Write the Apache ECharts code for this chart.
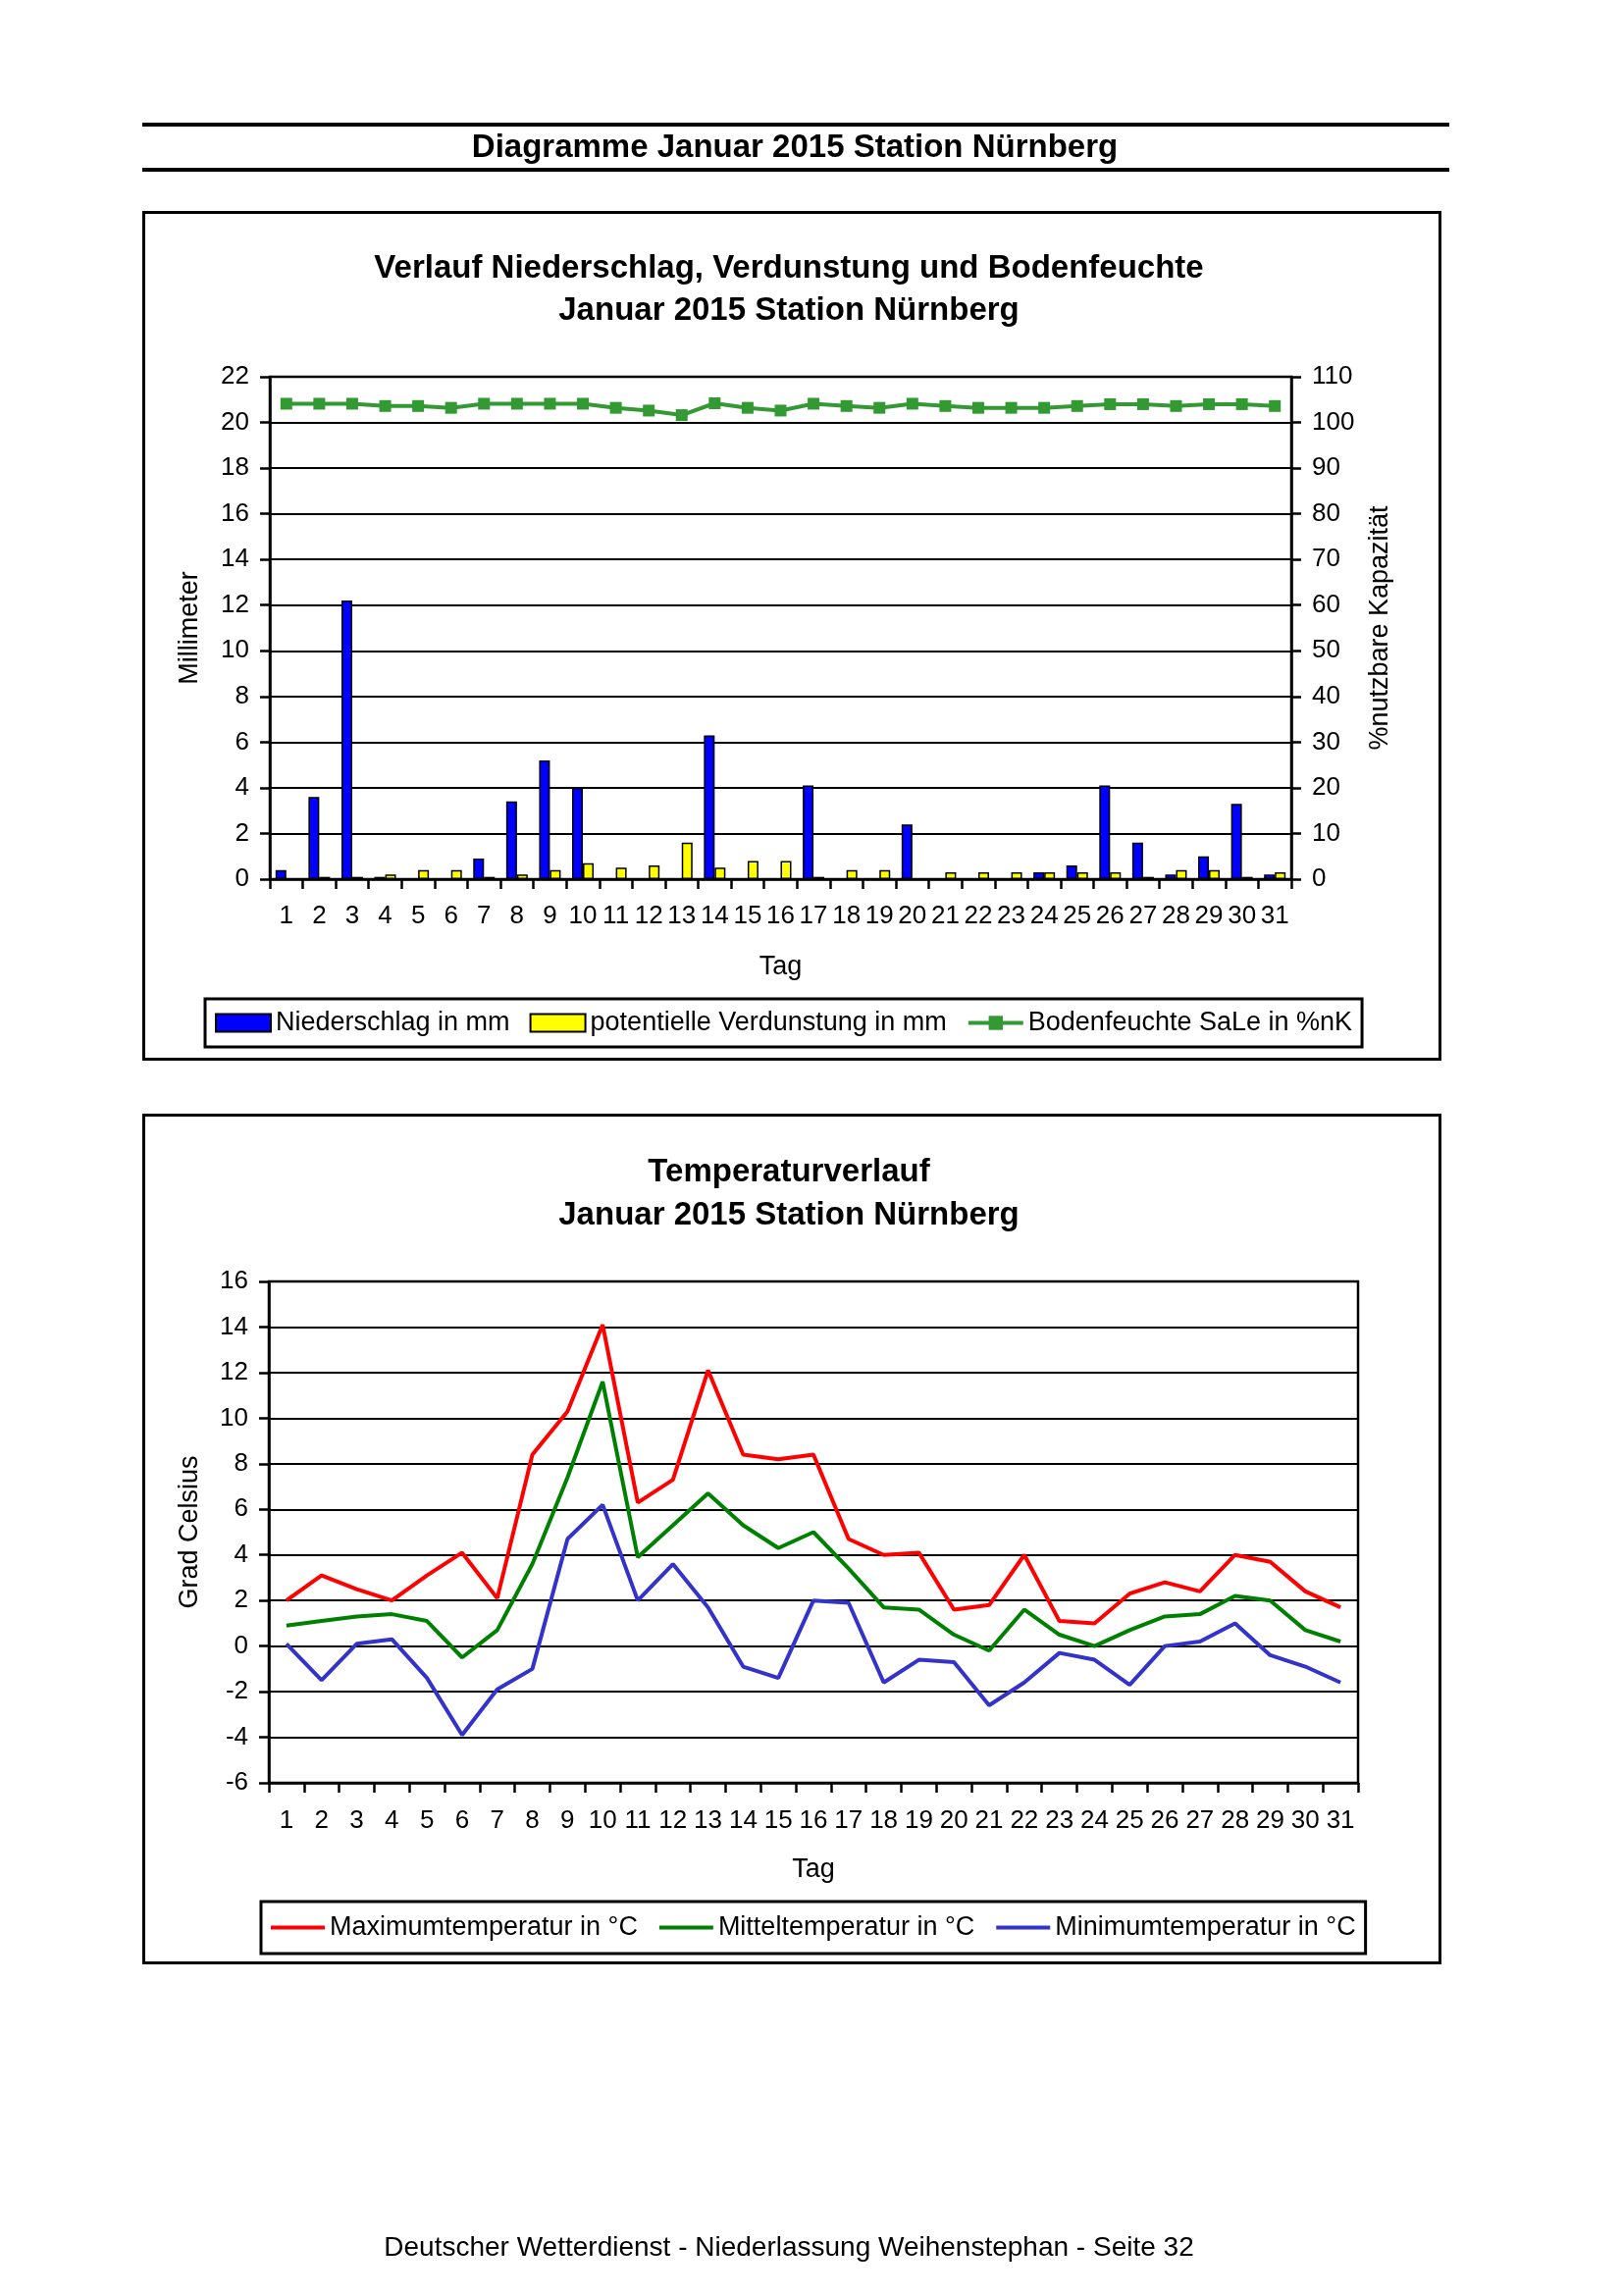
<!DOCTYPE html>
<html><head><meta charset="utf-8">
<script src="https://cdn.jsdelivr.net/npm/echarts@6/dist/echarts.min.js"></script>
<style>html,body{margin:0;padding:0;background:#fff}#c{width:1653px;height:2340px}</style>
</head><body><div id="c"></div>
<script>
// ---- data ----
const days = ['1','2','3','4','5','6','7','8','9','10','11','12','13','14','15','16','17','18','19','20','21','22','23','24','25','26','27','28','29','30','31'];
const niederschlag = [0.4,3.6,12.2,0.1,0,0,0.9,3.4,5.2,4.0,0,0,0,6.3,0,0,4.1,0,0,2.4,0,0,0,0.3,0.6,4.1,1.6,0.2,1.0,3.3,0.2];
const verdunstung = [0,0.1,0.1,0.2,0.4,0.4,0.1,0.2,0.4,0.7,0.5,0.6,1.6,0.5,0.8,0.8,0.1,0.4,0.4,0,0.3,0.3,0.3,0.3,0.3,0.3,0.1,0.4,0.4,0.1,0.3];
const bodenfeuchte = [104.1,104.1,104.1,103.6,103.6,103.2,104.1,104.1,104.1,104.1,103.2,102.6,101.6,104.2,103.2,102.6,104.1,103.6,103.2,104.1,103.6,103.2,103.2,103.2,103.6,104,104,103.6,104,104,103.6];
const tmax = [2.0,3.1,2.5,2.0,3.1,4.1,2.1,8.4,10.3,14.1,6.3,7.3,12.1,8.4,8.2,8.4,4.7,4.0,4.1,1.6,1.8,4.0,1.1,1.0,2.3,2.8,2.4,4.0,3.7,2.4,1.7];
const tmean = [0.9,1.1,1.3,1.4,1.1,-0.5,0.7,3.6,7.4,11.6,3.9,5.3,6.7,5.3,4.3,5.0,3.4,1.7,1.6,0.5,-0.2,1.6,0.5,0.0,0.7,1.3,1.4,2.2,2.0,0.7,0.2];
const tmin = [0.1,-1.5,0.1,0.3,-1.4,-3.9,-1.9,-1.0,4.7,6.2,2.0,3.6,1.7,-0.9,-1.4,2.0,1.9,-1.6,-0.6,-0.7,-2.6,-1.6,-0.3,-0.6,-1.7,0.0,0.2,1.0,-0.4,-0.9,-1.6];

const headerTitle = 'Diagramme Januar 2015 Station Nürnberg';
const chart1Title = ['Verlauf Niederschlag, Verdunstung und Bodenfeuchte', 'Januar 2015 Station Nürnberg'];
const chart2Title = ['Temperaturverlauf', 'Januar 2015 Station Nürnberg'];
const footer = 'Deutscher Wetterdienst - Niederlassung Weihenstephan - Seite 32';

// ---- chart ----
const F = '"Liberation Sans", Arial, sans-serif';
const chart = echarts.init(document.getElementById('c'));
const axLine = {show:true, onZero:false, lineStyle:{color:'#000', width:2.5}};
const axTick = {show:true, inside:false, length:10, lineStyle:{color:'#000', width:2.5}};
const lbl = (m) => ({color:'#000', fontSize:26, fontFamily:F, margin:m});
const nameStyle = {color:'#000', fontSize:27, fontFamily:F};

function txt(x, y, s, size, bold) {
  return {type:'text', x:x, y:y, style:{text:s, fill:'#000', font:(bold?'bold ':'')+size+'px '+F, textAlign:'center', textVerticalAlign:'middle'}};
}

const option = {
  backgroundColor:'#fff',
  animation:false,
  graphic:[
    {type:'rect', shape:{x:145, y:125, width:1332, height:4}, style:{fill:'#000'}},
    {type:'rect', shape:{x:145, y:171, width:1332, height:4}, style:{fill:'#000'}},
    txt(810, 151, headerTitle, 33, true),
    {type:'rect', shape:{x:146.5, y:216.5, width:1321, height:863}, style:{fill:'none', stroke:'#000', lineWidth:3}},
    {type:'rect', shape:{x:146.5, y:1136.5, width:1321, height:864}, style:{fill:'none', stroke:'#000', lineWidth:3}},
    txt(804, 274, chart1Title[0], 33, true),
    txt(804, 317, chart1Title[1], 33, true),
    txt(804, 1195, chart2Title[0], 33, true),
    txt(804, 1239, chart2Title[1], 33, true),
    txt(804, 2291, footer, 28, false)
  ],
  grid:[
    {left:275, top:384, width:1041, height:512, show:true, borderColor:'#000', borderWidth:2.5, backgroundColor:'transparent'},
    {left:274, top:1306, width:1110, height:511, show:true, borderColor:'#000', borderWidth:2.5, backgroundColor:'transparent'}
  ],
  legend:[
    {left:209, top:1018, padding:[11,10,11,10], itemGap:20, itemWidth:56, itemHeight:18,
     borderColor:'#000', borderWidth:3, backgroundColor:'#fff',
     textStyle:{color:'#000', fontSize:27, fontFamily:F},
     lineStyle:{width:4},
     data:[{name:'Niederschlag in mm', icon:'rect'}, {name:'potentielle Verdunstung in mm', icon:'rect'}, {name:'Bodenfeuchte SaLe in %nK'}]},
    {left:266, top:1938, padding:[13,10,13,10], itemGap:22, itemWidth:55, itemHeight:4, icon:'rect',
     borderColor:'#000', borderWidth:3, backgroundColor:'#fff',
     textStyle:{color:'#000', fontSize:27, fontFamily:F},
     data:['Maximumtemperatur in °C','Mitteltemperatur in °C','Minimumtemperatur in °C']}
  ],
  xAxis:[
    {type:'category', gridIndex:0, data:days, boundaryGap:true, axisLine:axLine, axisTick:axTick,
     axisLabel:Object.assign(lbl(25), {interval:0}), name:'Tag', nameLocation:'middle', nameGap:76, nameTextStyle:nameStyle},
    {type:'category', gridIndex:1, data:days, boundaryGap:true, axisLine:axLine, axisTick:axTick,
     axisLabel:Object.assign(lbl(26), {interval:0}), name:'Tag', nameLocation:'middle', nameGap:75, nameTextStyle:nameStyle}
  ],
  yAxis:[
    {type:'value', gridIndex:0, min:0, max:22, interval:2, position:'left', axisLine:axLine, axisTick:axTick,
     axisLabel:lbl(21), splitLine:{show:true, lineStyle:{color:'#000', width:2}},
     name:'Millimeter', nameLocation:'middle', nameGap:68, nameRotate:90, nameTextStyle:nameStyle},
    {type:'value', gridIndex:0, min:0, max:110, interval:10, position:'right', axisLine:axLine, axisTick:axTick,
     axisLabel:lbl(21), splitLine:{show:false},
     name:'%nutzbare Kapazität', nameLocation:'middle', nameGap:77, nameRotate:90, nameTextStyle:nameStyle},
    {type:'value', gridIndex:1, min:-6, max:16, interval:2, position:'left', axisLine:axLine, axisTick:axTick,
     axisLabel:lbl(21), splitLine:{show:true, lineStyle:{color:'#000', width:2}},
     name:'Grad Celsius', nameLocation:'middle', nameGap:67, nameRotate:90, nameTextStyle:nameStyle}
  ],
  series:[
    {name:'Niederschlag in mm', type:'bar', xAxisIndex:0, yAxisIndex:0, data:niederschlag, barWidth:11, barGap:'0%',
     itemStyle:{color:'#0000ff', borderColor:'#000', borderWidth:1.5}},
    {name:'potentielle Verdunstung in mm', type:'bar', xAxisIndex:0, yAxisIndex:0, data:verdunstung, barWidth:11, barGap:'0%',
     itemStyle:{color:'#ffff00', borderColor:'#000', borderWidth:1.5}},
    {name:'Bodenfeuchte SaLe in %nK', type:'line', xAxisIndex:0, yAxisIndex:1, data:bodenfeuchte,
     symbol:'rect', symbolSize:12, showAllSymbol:true, lineStyle:{color:'#339933', width:4}, itemStyle:{color:'#339933'}},
    {name:'Maximumtemperatur in °C', type:'line', xAxisIndex:1, yAxisIndex:2, data:tmax, showSymbol:false, symbol:'none',
     lineStyle:{color:'#ff0000', width:4}, itemStyle:{color:'#ff0000'}},
    {name:'Mitteltemperatur in °C', type:'line', xAxisIndex:1, yAxisIndex:2, data:tmean, showSymbol:false, symbol:'none',
     lineStyle:{color:'#008000', width:4}, itemStyle:{color:'#008000'}},
    {name:'Minimumtemperatur in °C', type:'line', xAxisIndex:1, yAxisIndex:2, data:tmin, showSymbol:false, symbol:'none',
     lineStyle:{color:'#3333cc', width:4}, itemStyle:{color:'#3333cc'}}
  ]
};
chart.setOption(option);
</script></body></html>
